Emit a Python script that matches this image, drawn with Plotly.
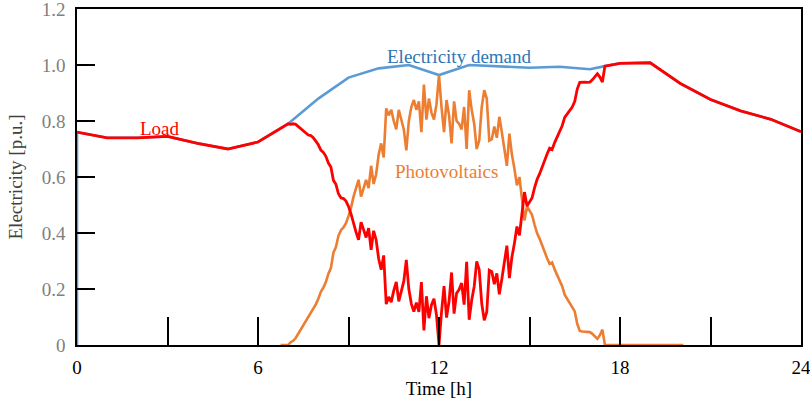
import numpy as np
import plotly.graph_objects as go

# ---- data ----
# Electricity demand (p.u.), hourly knots (first point = start at 0)
demand_hours = [0, 0, 1, 2, 3, 4, 5, 6, 7, 8, 9, 10, 11, 12, 13, 14, 15, 16, 17, 17.5,
                18, 19, 20, 21, 22, 23, 24]
demand = [0, 0.76, 0.74, 0.74, 0.745, 0.72, 0.70, 0.725, 0.79, 0.88, 0.955, 0.988, 1.0,
          0.964, 1.0, 0.996, 0.99, 0.994, 0.985, 0.996, 1.006, 1.008, 0.934, 0.877,
          0.836, 0.806, 0.762]

# Photovoltaics, 5-minute samples from 6:45 to 17:30
pv_hours = np.arange(6.75, 17.5 + 1e-9, 1 / 12)
pv = [0, 0, 0, 0,
      0.01, 0.015, 0.025, 0.04, 0.055, 0.07, 0.085, 0.1, 0.11, 0.125, 0.145, 0.165,
      0.19, 0.205, 0.225, 0.255, 0.275, 0.33, 0.35, 0.39, 0.41, 0.42, 0.435, 0.46,
      0.49, 0.53, 0.56, 0.59, 0.53, 0.56, 0.59, 0.56, 0.64, 0.575, 0.61, 0.68,
      0.72, 0.67, 0.845, 0.82, 0.84, 0.8, 0.77, 0.84, 0.8, 0.77, 0.695, 0.8,
      0.85, 0.875, 0.84, 0.87, 0.76, 0.93, 0.805, 0.88, 0.83, 0.805, 0.86, 0.964,
      0.85, 0.76, 0.875, 0.82, 0.72, 0.87, 0.8, 0.79, 0.77, 0.85, 0.7, 0.91,
      0.84, 0.79, 0.7, 0.73, 0.85, 0.91, 0.88, 0.73, 0.735, 0.78, 0.74, 0.815,
      0.76, 0.69, 0.64, 0.755, 0.68, 0.63, 0.57, 0.6, 0.52, 0.445, 0.495, 0.48,
      0.465, 0.43, 0.4, 0.38, 0.355, 0.33, 0.31, 0.29, 0.295, 0.27, 0.25, 0.235,
      0.21, 0.18, 0.165, 0.155, 0.14, 0.12, 0.075, 0.05, 0.048, 0.048, 0.048, 0.046,
      0.04, 0.03, 0.022, 0.035, 0.055, 0]
pv_tail_hours = [20.1]
pv_tail = [0]

# Load (net), same 5-minute samples
load_mid = [0.774, 0.779, 0.785, 0.79,
            0.788, 0.79, 0.788, 0.78, 0.773, 0.765, 0.758, 0.75, 0.748, 0.74, 0.728, 0.715,
            0.696, 0.688, 0.674, 0.65, 0.636, 0.588, 0.574, 0.54, 0.526, 0.523, 0.514, 0.495,
            0.468, 0.431, 0.403, 0.376, 0.439, 0.412, 0.384, 0.417, 0.34, 0.408, 0.375, 0.308,
            0.269, 0.32, 0.146, 0.172, 0.153, 0.194, 0.225, 0.156, 0.197, 0.228, 0.304, 0.2,
            0.147, 0.119, 0.151, 0.118, 0.225, 0.052, 0.174, 0.096, 0.143, 0.165, 0.107, 0.0,
            0.117, 0.21, 0.098, 0.156, 0.259, 0.112, 0.185, 0.198, 0.221, 0.144, 0.297, 0.09,
            0.16, 0.209, 0.299, 0.269, 0.148, 0.088, 0.118, 0.267, 0.262, 0.217, 0.256, 0.181,
            0.236, 0.305, 0.355, 0.239, 0.314, 0.363, 0.423, 0.392, 0.472, 0.546, 0.496, 0.51,
            0.525, 0.561, 0.591, 0.611, 0.637, 0.662, 0.682, 0.703, 0.698, 0.723, 0.744, 0.759,
            0.783, 0.813, 0.827, 0.836, 0.85, 0.87, 0.914, 0.938, 0.939, 0.939, 0.938, 0.939,
            0.947, 0.959, 0.969, 0.957, 0.939, 0.996]
load_am_hours = [0, 1, 2, 3, 4, 5, 6]
load_am = [0.76, 0.74, 0.74, 0.745, 0.72, 0.70, 0.725]
load_pm_hours = [18, 19, 20, 21, 22, 23, 24]
load_pm = [1.006, 1.008, 0.934, 0.877, 0.836, 0.806, 0.762]

x_tickvals = [0, 3, 6, 9, 12, 15, 18, 21, 24]
x_ticktext = ["0", "", "6", "", "12", "", "18", "", "24"]
y_tickvals = [0, 0.2, 0.4, 0.6, 0.8, 1.0, 1.2]
y_ticktext = ["0", "0.2", "0.4", "0.6", "0.8", "1.0", "1.2"]

FONT = "Liberation Serif, Times New Roman, serif"
BLUE, ORANGE, RED = "#5B9BD5", "#ED7D31", "#FF0000"

load_hours = list(load_am_hours) + list(pv_hours) + list(load_pm_hours)
load = list(load_am) + list(load_mid) + list(load_pm)

fig = go.Figure()
fig.add_trace(go.Scatter(x=demand_hours, y=demand, mode="lines",
                         line=dict(color=BLUE, width=2.6), name="Electricity demand"))
fig.add_trace(go.Scatter(x=list(pv_hours) + pv_tail_hours, y=pv + pv_tail, mode="lines",
                         line=dict(color=ORANGE, width=2.6), name="Photovoltaics"))
fig.add_trace(go.Scatter(x=load_hours, y=load, mode="lines",
                         line=dict(color=RED, width=2.8), name="Load"))

fig.add_annotation(x=12.69, y=1.032, text="Electricity demand", showarrow=False,
                   font=dict(family=FONT, size=19, color="#2E75B6"))
fig.add_annotation(x=2.75, y=0.775, text="Load", showarrow=False,
                   font=dict(family=FONT, size=19, color=RED))
fig.add_annotation(x=12.26, y=0.621, text="Photovoltaics", showarrow=False,
                   font=dict(family=FONT, size=19, color=ORANGE))

fig.update_layout(
    width=810, height=405,
    margin=dict(l=77, r=9, t=9, b=60, autoexpand=False),
    paper_bgcolor="white", plot_bgcolor="white",
    showlegend=False, hovermode=False,
    font=dict(family=FONT, size=19, color="black"),
)
fig.update_xaxes(range=[0, 24], tickvals=x_tickvals, ticktext=x_ticktext,
                 ticks="inside", ticklen=28, tickwidth=1.5, tickcolor="black",
                 showline=True, linecolor="black", linewidth=1.5, mirror=True,
                 showgrid=False, zeroline=False, ticklabelstandoff=4, automargin=False,
                 ticklabeloverflow="allow",
                 tickfont=dict(family=FONT, size=19, color="black"),
                 title=dict(text="Time [h]", standoff=2,
                            font=dict(family=FONT, size=19, color="black")))
fig.update_yaxes(range=[0, 1.2], tickvals=y_tickvals, ticktext=y_ticktext,
                 ticks="inside", ticklen=18, tickwidth=1.5, tickcolor="black",
                 showline=True, linecolor="black", linewidth=1.5, mirror=True,
                 showgrid=False, zeroline=False, ticklabelstandoff=6, automargin=False,
                 ticklabeloverflow="allow",
                 tickfont=dict(family=FONT, size=19, color="#7F7F7F"),
                 title=dict(text="Electricity [p.u.]", standoff=14,
                            font=dict(family=FONT, size=19, color="#404040")))

fig.write_html("out.html")
